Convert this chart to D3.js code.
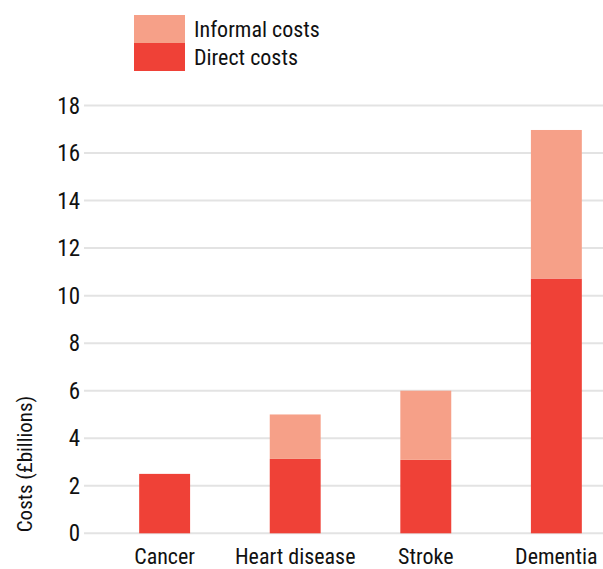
<!DOCTYPE html>
<html><head><meta charset="utf-8">
<script src="https://cdn.jsdelivr.net/npm/d3@7"></script>
<style>
body{margin:0;background:#fff;}
text{font-family:"Liberation Sans Narrow","Roboto Condensed","Liberation Sans",Arial,sans-serif;fill:#111;}
</style></head>
<body><svg id="c" width="603" height="569"></svg>
<script>
const categories = ["Cancer","Heart disease","Stroke","Dementia"];
const directCosts = [2.5, 3.13, 3.09, 10.72];
const informalCosts = [0, 1.87, 2.91, 6.25];
const yTicks = [0,2,4,6,8,10,12,14,16,18];
const seriesNames = ["Informal costs","Direct costs"];
const colors = {"Direct costs":"#ef4137","Informal costs":"#f6a088"};

const svg = d3.select("#c");
const y = d3.scaleLinear().domain([0,18]).range([533.3,105.5]);
const x = d3.scaleBand().domain(categories).range([100,621]).paddingInner(0.61).paddingOuter(0.3);

// grid
svg.append("g").selectAll("line").data(yTicks).join("line")
  .attr("x1",84).attr("x2",603).attr("y1",d=>y(d)).attr("y2",d=>y(d))
  .attr("stroke","#e3e3e3").attr("stroke-width",2);
svg.append("g").selectAll("text").data(yTicks).join("text")
  .attr("x",80).attr("y",d=>y(d)).attr("dy","0.35em").attr("text-anchor","end")
  .style("font-size","23px").text(d=>d);

const rows = categories.map((c,i)=>({cat:c,"Direct costs":directCosts[i],"Informal costs":informalCosts[i]}));
const stack = d3.stack().keys(["Direct costs","Informal costs"])(rows);
svg.append("g").selectAll("g").data(stack).join("g").attr("fill",d=>colors[d.key])
  .selectAll("rect").data(d=>d).join("rect")
  .attr("x",d=>x(d.data.cat)).attr("width",x.bandwidth())
  .attr("y",d=>y(d[1])).attr("height",d=>y(d[0])-y(d[1]));

svg.append("g").selectAll("text").data(categories).join("text")
  .attr("x",d=>x(d)+x.bandwidth()/2).attr("y",556).attr("dy","0.35em")
  .attr("text-anchor","middle").style("font-size","22px").text(d=>d);

svg.append("text").attr("transform","translate(25,464) rotate(-90)")
  .attr("text-anchor","middle").attr("dy","0.35em").style("font-size","21px").text("Costs (£billions)");

const lg = svg.append("g");
seriesNames.forEach((s,i)=>{
  lg.append("rect").attr("x",134).attr("y",15+i*28).attr("width",51).attr("height",28).attr("fill",colors[s]);
  lg.append("text").attr("x",194).attr("y",29+i*28).attr("dy","0.35em").style("font-size","22px").text(s);
});
</script></body></html>
